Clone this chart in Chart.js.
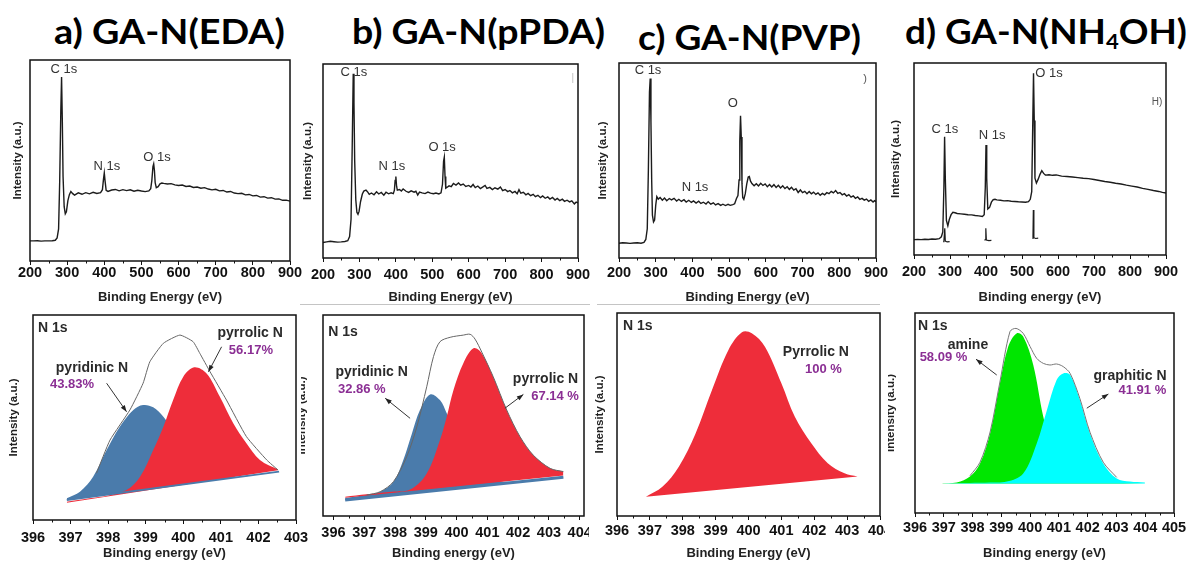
<!DOCTYPE html>
<html>
<head>
<meta charset="utf-8">
<script src="https://cdn.jsdelivr.net/npm/chart.js@4.4.1/dist/chart.umd.min.js"></script>
<style>
  body { margin: 0; width: 1191px; height: 561px; background: #fff; position: relative; overflow: hidden; }
  canvas { position: absolute; }
  .title { position: absolute; font-family: Lato, "Open Sans", sans-serif; font-weight: 700; font-size: 35px;
           color: #000; white-space: nowrap; line-height: 1; transform-origin: left top; }
  .title sub { font-size: 60%; vertical-align: -0.25em; line-height: 0; }
  .rule { position: absolute; height: 1px; background: #c4c4c4; }
</style>
</head>
<body>
<div class="title" id="ttl-a" data-left="54" data-top="13" data-width="231">a) GA-N(EDA)</div>
<div class="title" id="ttl-b" data-left="352" data-top="13" data-width="253">b) GA-N(pPDA)</div>
<div class="title" id="ttl-c" data-left="638" data-top="19" data-width="223">c) GA-N(PVP)</div>
<div class="title" id="ttl-d" data-left="905" data-top="13" data-width="282">d) GA-N(NH<sub>4</sub>OH)</div>
<div class="rule" style="left:300px; top:304px; width:290px"></div>
<div class="rule" style="left:597px; top:304px; width:283px"></div>

<canvas id="survey-eda"></canvas>
<canvas id="survey-ppda"></canvas>
<canvas id="survey-pvp"></canvas>
<canvas id="survey-nh4oh"></canvas>
<canvas id="n1s-ppda"></canvas>
<canvas id="n1s-eda"></canvas>
<canvas id="n1s-pvp"></canvas>
<canvas id="n1s-nh4oh"></canvas>

<script>
// ---------- XPS survey spectra: binding energy (eV) / intensity (a.u.) ----------
const surveyEdaX = [200,210,220,230,240,250,260,268,273,277,280,283,285,287,289,292,295,298,302,306,310,315,320,330,340,350,360,370,380,390,395,398,400,402,405,410,420,430,440,450,460,470,480,490,500,510,520,525,528,531,533,535,537,540,545,550,555,560,570,580,590,600,610,620,630,640,650,660,670,680,690,700,710,720,730,740,750,760,770,780,790,800,810,820,830,840,850,860,870,880,890,900];
const surveyEdaY = [10.0,10.0,10.1,9.9,10.0,10.0,10.1,10.3,11.5,16,40,75,91.5,70,42,27,23.5,24.5,30,33,34.6,33.5,32.8,33.9,33.2,34.0,33.4,34.2,33.6,34.0,35.5,41,43.8,40,35.2,34.6,35.3,35.6,34.9,35.5,35.0,35.4,34.7,35.2,34.8,34.5,34.9,36,40,47,48.3,45,39,36.5,37.0,38.4,38.8,38.6,38.3,38.5,37.9,37.6,37.8,37.1,37.3,36.6,36.8,36.2,36.5,35.8,35.4,35.7,34.9,35.1,34.3,34.6,33.8,33.5,33.7,32.9,33.1,32.4,32.6,31.8,32.0,31.3,31.5,30.8,30.9,30.2,30.3,29.8];

const surveyPpdaX = [200,210,220,230,240,250,260,268,273,277,280,283,285,287,290,293,296,299,303,308,312,318,322,327,333,340,347,353,360,367,373,380,387,393,396,398,400,402,404,410,415,420,428,435,442,450,455,460,465,472,480,488,495,503,510,518,524,528,531,533,535,537,541,546,552,558,565,572,578,585,592,600,606,612,618,625,632,638,645,650,658,665,672,680,687,693,700,707,713,720,727,733,738,743,750,757,763,770,777,783,790,797,803,810,817,823,830,837,843,850,857,863,870,877,883,890,895,900];
const surveyPpdaY = [8.0,8.3,8.6,8.4,8.2,8.3,8.5,8.9,11,20,55,95,80,50,30,23.5,22.5,24,29,33,34.5,35.0,34.2,32.8,33.5,32.6,34.1,33.0,33.8,32.4,33.9,33.1,33.6,33.2,35,40,42,37,35.0,35.3,34.5,35.6,34.4,33.8,34.6,33.9,34.4,32.5,34.0,33.6,33.2,34.0,33.4,33.1,33.5,33.0,33.6,38,50,52,42,36,36.5,37.2,36.8,38.4,37.6,38.7,37.5,38.1,36.9,37.4,36.6,37.9,36.3,37.1,35.8,36.5,37.4,35.9,36.4,35.3,36.2,35.5,36.6,34.7,35.3,34.2,34.8,33.6,34.3,33.1,35.2,33.4,33.9,32.6,33.3,32.1,32.8,31.6,32.3,31.1,32.0,30.8,31.5,30.4,31.2,29.9,30.7,29.6,30.3,29.2,29.8,28.9,29.5,27.9,28.8,28.4];

const surveyPvpX = [200,210,220,230,240,250,260,268,273,277,280,283,285,287,289,291,294,297,300,303,307,312,318,324,330,337,343,350,357,363,370,377,383,390,397,403,410,417,423,430,437,443,450,457,463,470,477,483,490,497,503,510,515,520,524,527,529,531,533,535,537,540,544,548,552,555,558,562,568,574,580,586,592,598,604,610,616,622,628,634,640,646,652,658,664,670,676,682,688,694,700,706,712,718,724,730,736,742,748,754,760,766,772,778,784,790,796,802,808,814,820,826,832,838,844,850,856,862,868,874,880,886,892,896,900];
const surveyPvpY = [7.6,7.8,7.7,7.5,7.7,7.8,7.6,8.0,9.5,15,45,85,92,70,40,22,18.5,19.5,27,31.5,30.2,31.0,29.6,30.8,29.4,30.5,29.8,30.6,29.2,30.1,29.0,29.9,28.7,29.6,28.5,29.3,28.2,29.1,28.0,28.6,27.7,28.9,27.6,28.3,27.2,27.9,27.0,27.6,26.9,27.5,27.0,27.4,27.8,30.5,32,40,60,73,62,38,31,30.0,33,38,41.5,41.8,39.5,38.2,37.0,38.1,36.9,38.3,37.2,38.0,36.6,37.7,36.4,37.6,36.2,37.3,35.9,37.0,35.6,36.5,35.2,36.3,34.8,35.5,33.6,34.9,33.5,34.2,33.0,34.1,32.9,33.8,32.6,33.4,32.2,33.1,32.4,33.5,33.0,34.2,33.4,34.6,33.1,33.6,32.4,33.0,31.8,32.5,31.2,31.9,30.6,31.3,30.1,30.6,29.7,30.2,29.1,29.8,28.7,29.4,28.9];

const surveyNh4ohX = [200,210,220,230,240,250,260,270,276,280,283,285,287,290,294,298,303,308,314,320,330,340,350,360,370,380,390,395,398,400,402,405,410,415,420,425,430,440,450,460,470,480,490,500,510,518,523,527,530,532,534,536,540,545,550,555,560,565,575,585,595,610,625,640,655,670,685,700,715,730,745,760,775,790,805,820,835,850,865,880,890,900];
const surveyNh4ohY = [8.0,8.1,8.0,8.2,8.1,8.3,8.2,8.5,9.5,12,35,61.6,40,18,15.2,18.5,21,22.2,22.0,21.6,21.4,21.2,21.0,20.9,20.6,20.4,20.1,21,35,57.3,40,24,24.8,27.5,28.8,29.0,28.7,28.5,28.2,28.3,28.0,27.9,27.7,27.6,27.5,27.8,29,33,70,94.6,70,40,37.5,39.5,42,43.9,42.5,41.6,41.8,41.5,41.7,41.1,40.9,40.6,40.3,40.0,39.8,39.3,38.8,38.3,37.9,37.4,37.0,36.4,35.9,35.4,34.7,34.2,33.6,33.1,32.6,32.3];
// small overlaid core-level traces under the C, N and O peaks (null = break)
const insetNh4ohX = [281,283,285.5,287,292,299,300,396,398,399.5,401,408,415,416,529,530.5,531.5,533,538,545];
const insetNh4ohY = [6.9,7.2,13.9,7.2,6.8,7.0,null,7.6,8.0,13.9,7.8,7.5,7.6,null,8.7,10,23.4,9,8.6,8.8];

// ---------- N 1s high-resolution spectra ----------
// GA-N(EDA)
const edaEnvX = [397.69,398.05,398.58,398.93,399.11,399.47,399.91,400.26,400.44,400.71,401.15,401.68,402.22,402.52];
const edaEnvY = [22.8,39.0,53.7,66.7,77.2,86.2,90.2,87.0,81.3,72.4,58.5,40.7,29.3,24.4];
const edaPyridinicX = [396.9,397.25,397.6,397.96,398.31,398.67,398.93,399.2,399.47,399.8,400.2,400.7,401.3,402.0,402.55];
const edaPyridinicY = [10.6,13.8,21.1,34.1,45.5,53.7,56.1,55.0,50.4,42,32,24,21,22.2,23.6];
const edaPyrrolicX = [396.9,397.5,398.0,398.49,398.85,399.2,399.47,399.73,400.0,400.29,400.62,400.97,401.33,401.68,402.04,402.52];
const edaPyrrolicY = [8.9,10.6,12.0,14.6,21.1,34.1,45.5,58.5,69.9,74.5,71.5,60.2,47.2,37.4,29.3,24.7];
const edaBaseX = [396.9,402.55];
const edaBaseY = [9.8,23.6];
const edaPyrrolicBaseY = [8.4,24.4];

// GA-N(pPDA)
const ppdaEnvX = [397.08,397.52,397.95,398.38,398.71,399.03,399.25,399.46,399.79,400.22,400.44,400.6,400.82,401.19,401.63,402.06,402.49,403.04,403.47];
const ppdaEnvY = [10.4,12.1,17.1,29.5,44.4,64.3,79.3,86.7,88.9,90.0,90.4,88.0,81.5,69.3,52.7,39.5,30.3,23.7,22.1];
const ppdaPyridinicX = [396.38,397.08,397.52,397.95,398.27,398.55,398.81,399.14,399.46,399.68,400.0,400.5,401.2,402.0,403.47];
const ppdaPyridinicY = [9.0,10.6,12.1,17.1,27.9,41.1,52.7,60.5,57.7,51.1,40,25,18,17.2,19.4];
const ppdaPyrrolicX = [396.38,397.08,397.8,398.49,399.03,399.46,399.68,399.9,400.22,400.55,400.82,401.19,401.63,402.06,402.49,403.04,403.47];
const ppdaPyrrolicY = [9.6,10.8,12.0,13.2,21.2,37.8,49.4,62.7,76.0,83.4,80.9,69.3,52.7,39.5,30.3,23.7,22.1];
const ppdaBaseX = [396.38,403.47];
const ppdaBaseY = [8.0,19.3];
const ppdaPyrrolicBaseY = [9.1,20.1];

// GA-N(PVP)
const pvpPyrrolicX = [396.88,397.38,397.88,398.39,398.89,399.39,399.8,400.1,400.5,401.0,401.41,401.91,402.41,402.92,403.32];
const pvpPyrrolicY = [9.5,14.4,24.3,40.7,62.1,81.8,90.5,90.0,83.4,65.4,48.9,35.8,26.0,21.0,19.4];
const pvpBaseX = [396.88,403.32];
const pvpBaseY = [9.5,19.4];

// GA-N(NH4OH)
const nh4ohEnvX = [397.91,398.26,398.61,398.95,399.3,399.51,399.76,400.0,400.23,400.46,400.69,400.92,401.15,401.39,401.73,402.08,402.54,403.01];
const nh4ohEnvY = [18.6,25.4,40.5,65.5,90.7,92.3,89.8,83.2,77.3,74.8,74.0,74.5,73.2,69.8,57.2,40.4,25.4,17.8];
const nh4ohAmineX = [396.93,397.45,397.91,398.26,398.61,398.95,399.24,399.53,399.76,400.11,400.46,400.81,401.2,401.8,402.5,404.0];
const nh4ohAmineY = [14.8,15.2,18.2,24.8,39.8,64.8,83.2,89.8,88.2,74,48,30,20,16,15.2,14.8];
const nh4ohGraphiticX = [396.93,397.9,398.61,399.19,399.76,400.23,400.58,400.92,401.15,401.39,401.73,402.08,402.54,403.01,403.47,403.99];
const nh4ohGraphiticY = [14.8,15.0,15.2,15.7,19.8,34.8,51.3,66.5,69.8,69.0,56.5,39.8,24.8,17.3,15.7,15.3];
const nh4ohBaseX = [396.93,403.99];
const nh4ohBaseY = [14.8,14.8];

// ---------- colours & fonts ----------
const SANS = '"Liberation Sans", Arial, sans-serif';
const RED = '#ee2d3a', BLUE = '#4a7bab', GREEN = '#00e600', CYAN = '#00ffff', PURPLE = '#8b2f94';
const LINE = '#1c1c1c';

const pts = (xs, ys) => xs.map((x, i) => ({ x, y: ys[i] }));

// border around the plotting area
const framePlugin = {
  id: 'frame',
  afterDraw(chart) {
    const { ctx, chartArea: a } = chart;
    ctx.save();
    ctx.strokeStyle = '#111';
    ctx.lineWidth = 1.5;
    ctx.strokeRect(a.left, a.top, a.right - a.left, a.bottom - a.top);
    ctx.restore();
  }
};

// short minor ticks between the labelled ones
const minorTicksPlugin = {
  id: 'minorTicks',
  afterDraw(chart, args, opts) {
    const sx = chart.scales.x, a = chart.chartArea, ctx = chart.ctx;
    ctx.save();
    ctx.strokeStyle = '#111';
    ctx.lineWidth = 1;
    for (let v = opts.from; v <= sx.max + 1e-9; v += opts.step) {
      const px = Math.round(sx.getPixelForValue(v)) + 0.5;
      ctx.beginPath();
      ctx.moveTo(px, a.bottom);
      ctx.lineTo(px, a.bottom + opts.len);
      ctx.stroke();
    }
    ctx.restore();
  }
};

// peak names, percentages and pointer arrows, placed in data units
const notesPlugin = {
  id: 'notes',
  afterDatasetsDraw(chart, args, opts) {
    const { ctx } = chart;
    const sx = chart.scales.x, sy = chart.scales.y;
    ctx.save();
    (opts.arrows || []).forEach(([x0, y0, x1, y1]) => {
      const ax = sx.getPixelForValue(x0), ay = sy.getPixelForValue(y0);
      const bx = sx.getPixelForValue(x1), by = sy.getPixelForValue(y1);
      const ang = Math.atan2(by - ay, bx - ax);
      ctx.strokeStyle = '#333';
      ctx.fillStyle = '#222';
      ctx.lineWidth = 1;
      ctx.beginPath();
      ctx.moveTo(ax, ay);
      ctx.lineTo(bx, by);
      ctx.stroke();
      ctx.beginPath();
      ctx.moveTo(bx, by);
      ctx.lineTo(bx - 7 * Math.cos(ang - 0.35), by - 7 * Math.sin(ang - 0.35));
      ctx.lineTo(bx - 7 * Math.cos(ang + 0.35), by - 7 * Math.sin(ang + 0.35));
      ctx.closePath();
      ctx.fill();
    });
    (opts.labels || []).forEach(l => {
      ctx.font = l.font;
      ctx.fillStyle = l.color;
      ctx.textAlign = l.align || 'center';
      ctx.textBaseline = 'middle';
      ctx.fillText(l.text, sx.getPixelForValue(l.x), sy.getPixelForValue(l.y));
    });
    ctx.restore();
  }
};

const peakFont = '13px ' + SANS;
const tagFont = 'bold 14px ' + SANS;
const pctFont = 'bold 13px ' + SANS;
const dark = '#2a2a2a';

function buildChart(id, g, datasets) {
  const cv = document.getElementById(id);
  const [cl, ct, cr, cb] = g.canvas;
  const [bl, bt, br, bb] = g.box;
  cv.width = cr - cl;
  cv.height = cb - ct;
  cv.style.left = cl + 'px';
  cv.style.top = ct + 'px';
  const xTitleSize = 13, yTitleSize = 11.5;
  return new Chart(cv, {
    type: 'line',
    data: { datasets },
    plugins: [framePlugin, minorTicksPlugin, notesPlugin],
    options: {
      responsive: false,
      animation: false,
      devicePixelRatio: 1,
      layout: { padding: { top: bt - ct, right: cr - br, left: 0, bottom: 0 } },
      elements: { point: { radius: 0 } },
      plugins: {
        legend: { display: false },
        tooltip: { enabled: false },
        minorTicks: { from: g.minorFrom, step: g.minorStep, len: 2.5 },
        notes: { labels: g.labels, arrows: g.arrows || [] }
      },
      scales: {
        x: {
          type: 'linear',
          min: g.xMin,
          max: g.xMax,
          afterFit(s) { s.height = cb - bb; s.paddingLeft = 0; s.paddingRight = 0; },
          border: { display: false },
          grid: { drawOnChartArea: false, tickLength: 4, color: '#111', lineWidth: 1 },
          ticks: {
            stepSize: g.step, autoSkip: false, maxRotation: 0, includeBounds: false,
            padding: g.tickPad, color: '#111',
            font: { family: SANS, size: 14.5, weight: 'bold' }
          },
          title: {
            display: true, text: g.xTitle, color: '#222',
            font: { family: SANS, size: xTitleSize, weight: 'bold', lineHeight: 1.2 },
            padding: { top: (cb - g.xTitleY) - xTitleSize * 0.6, bottom: 0 }
          }
        },
        y: {
          min: 0,
          max: 100,
          afterFit(s) { s.width = bl - cl; s.paddingTop = 0; s.paddingBottom = 0; },
          border: { display: false },
          grid: { display: false },
          ticks: { display: false },
          title: {
            display: true, text: 'Intensity (a.u.)', color: '#222',
            font: { family: SANS, size: yTitleSize, weight: 'bold', lineHeight: 1.2 },
            padding: { top: (g.yTitleX - cl) - yTitleSize * 0.6, bottom: 0 }
          }
        }
      }
    }
  });
}

function surveyLine(xs, ys) {
  return { data: pts(xs, ys), borderColor: LINE, borderWidth: 1.4, tension: 0, fill: false, order: 1 };
}

const surveyCommon = { xMin: 200, xMax: 900, step: 100, minorFrom: 250, minorStep: 100 };
const n1sCommon = { step: 1, minorFrom: 396.5, minorStep: 1 };

// ---------- top row: survey scans ----------
buildChart('survey-eda', Object.assign({}, surveyCommon, {
  canvas: [0, 50, 305, 305], box: [30, 60, 290, 261], tickPad: -1, xTitleY: 298, yTitleX: 18,
  xTitle: 'Binding Energy (eV)',
  labels: [
    { text: 'C 1s', x: 291.5, y: 95.5, font: peakFont, color: '#333' },
    { text: 'N 1s', x: 407, y: 47.3, font: peakFont, color: '#333' },
    { text: 'O 1s', x: 542, y: 51.7, font: peakFont, color: '#333' }
  ]
}), [surveyLine(surveyEdaX, surveyEdaY)]);

buildChart('survey-ppda', Object.assign({}, surveyCommon, {
  canvas: [300, 50, 595, 305], box: [323, 64, 578, 258], tickPad: 4, xTitleY: 297, yTitleX: 308,
  xTitle: 'Binding Energy (eV)',
  labels: [
    { text: 'C 1s', x: 285, y: 95.9, font: peakFont, color: '#333' },
    { text: 'N 1s', x: 389, y: 47.4, font: peakFont, color: '#333' },
    { text: 'O 1s', x: 527, y: 57.2, font: peakFont, color: '#333' },
    { text: '|', x: 886, y: 92.8, font: '10px ' + SANS, color: '#bbb' }
  ]
}), [surveyLine(surveyPpdaX, surveyPpdaY)]);

buildChart('survey-pvp', Object.assign({}, surveyCommon, {
  canvas: [595, 50, 888, 305], box: [619, 63, 876, 258], tickPad: 2.5, xTitleY: 296, yTitleX: 603,
  xTitle: 'Binding Energy (eV)',
  labels: [
    { text: 'C 1s', x: 279, y: 96.4, font: peakFont, color: '#333' },
    { text: 'N 1s', x: 407, y: 36.4, font: peakFont, color: '#333' },
    { text: 'O', x: 510, y: 79.5, font: peakFont, color: '#333' },
    { text: ')', x: 870, y: 91.8, font: '11px ' + SANS, color: '#555' }
  ]
}), [surveyLine(surveyPvpX, surveyPvpY)]);

buildChart('survey-nh4oh', Object.assign({}, surveyCommon, {
  canvas: [888, 50, 1191, 305], box: [914, 63, 1166, 255], tickPad: 4, xTitleY: 293, yTitleX: 896,
  xTitle: 'Binding energy (eV)',
  labels: [
    { text: 'C 1s', x: 286, y: 65.6, font: peakFont, color: '#333' },
    { text: 'N 1s', x: 417, y: 62.5, font: peakFont, color: '#333' },
    { text: 'O 1s', x: 575, y: 94.8, font: peakFont, color: '#333' },
    { text: 'H)', x: 875, y: 79.7, font: '10px ' + SANS, color: '#555' }
  ]
}), [
  surveyLine(surveyNh4ohX, surveyNh4ohY),
  { data: pts(insetNh4ohX, insetNh4ohY), borderColor: LINE, borderWidth: 1.2, tension: 0, fill: false, spanGaps: false, order: 0 }
]);

// ---------- bottom row: N 1s deconvolution ----------
// dataset order: higher "order" is painted first
const invisible = { borderColor: 'rgba(0,0,0,0)', borderWidth: 0, fill: false };

buildChart('n1s-eda', Object.assign({}, n1sCommon, {
  canvas: [0, 305, 310, 561], box: [33, 315, 296, 520], xMin: 396, xMax: 403, tickPad: 5,
  xTitleY: 555, yTitleX: 14, xTitle: 'Binding energy (eV)',
  labels: [
    { text: 'N 1s', x: 396.13, y: 93.7, font: tagFont, color: dark, align: 'left' },
    { text: 'pyridinic N', x: 397.57, y: 74.1, font: tagFont, color: dark },
    { text: '43.83%', x: 397.04, y: 65.9, font: pctFont, color: PURPLE },
    { text: 'pyrrolic N', x: 401.78, y: 91.2, font: tagFont, color: dark },
    { text: '56.17%', x: 401.8, y: 82.9, font: pctFont, color: PURPLE }
  ],
  arrows: [[397.96, 66.7, 398.49, 52.8], [401.02, 84.5, 400.67, 72.3]]
}), [
  Object.assign({ data: pts(edaBaseX, edaBaseY), order: 2 }, { borderColor: BLUE, borderWidth: 2, fill: false }),
  Object.assign({ data: pts(edaBaseX, edaPyrrolicBaseY), order: 9 }, invisible),
  { data: pts(edaPyridinicX, edaPyridinicY), borderColor: 'rgba(0,0,0,0)', borderWidth: 0, backgroundColor: BLUE, fill: { target: 0 }, tension: 0.35, order: 5 },
  { data: pts(edaPyrrolicX, edaPyrrolicY), borderColor: 'rgba(0,0,0,0)', borderWidth: 0, backgroundColor: RED, fill: { target: 1 }, tension: 0.35, order: 4 },
  { data: pts(edaEnvX, edaEnvY), borderColor: '#666', borderWidth: 1, fill: false, tension: 0.15, order: 0 }
]);

buildChart('n1s-ppda', Object.assign({}, n1sCommon, {
  canvas: [301, 305, 589, 561], box: [323, 315, 584, 516], xMin: 395.66, xMax: 404.14, tickPad: 4.5,
  xTitleY: 552, yTitleX: 302, xTitle: 'Binding energy (eV)',
  labels: [
    { text: 'N 1s', x: 395.83, y: 91.5, font: tagFont, color: dark, align: 'left' },
    { text: 'pyridinic N', x: 397.24, y: 71.6, font: tagFont, color: dark },
    { text: '32.86 %', x: 396.92, y: 63.2, font: pctFont, color: PURPLE },
    { text: 'pyrrolic N', x: 402.89, y: 68.2, font: tagFont, color: dark },
    { text: '67.14 %', x: 403.2, y: 59.7, font: pctFont, color: PURPLE }
  ],
  arrows: [[398.49, 48.6, 397.68, 58.6], [401.57, 53.6, 402.17, 60.5]]
}), [
  Object.assign({ data: pts(ppdaBaseX, ppdaBaseY), order: 2 }, { borderColor: BLUE, borderWidth: 3, fill: false }),
  Object.assign({ data: pts(ppdaBaseX, ppdaPyrrolicBaseY), order: 9 }, invisible),
  { data: pts(ppdaPyridinicX, ppdaPyridinicY), borderColor: 'rgba(0,0,0,0)', borderWidth: 0, backgroundColor: BLUE, fill: { target: 0 }, tension: 0.35, order: 5 },
  { data: pts(ppdaPyrrolicX, ppdaPyrrolicY), borderColor: 'rgba(0,0,0,0)', borderWidth: 0, backgroundColor: RED, fill: { target: 1 }, tension: 0.35, order: 3 },
  { data: pts(ppdaEnvX, ppdaEnvY), borderColor: '#666', borderWidth: 1, fill: false, tension: 0.3, order: 0 }
]);

buildChart('n1s-pvp', Object.assign({}, n1sCommon, {
  canvas: [595, 305, 885, 561], box: [617, 313, 880, 516], xMin: 396, xMax: 404, tickPad: 2.5,
  xTitleY: 556, yTitleX: 600, xTitle: 'Binding Energy (eV)',
  labels: [
    { text: 'N 1s', x: 396.18, y: 93.6, font: tagFont, color: dark, align: 'left' },
    { text: 'Pyrrolic N', x: 402.05, y: 80.8, font: tagFont, color: dark },
    { text: '100 %', x: 402.28, y: 72.4, font: pctFont, color: PURPLE }
  ]
}), [
  Object.assign({ data: pts(pvpBaseX, pvpBaseY), order: 9 }, invisible),
  { data: pts(pvpPyrrolicX, pvpPyrrolicY), borderColor: 'rgba(0,0,0,0)', borderWidth: 0, backgroundColor: RED, fill: { target: 0 }, tension: 0.35, order: 1 }
]);

buildChart('n1s-nh4oh', Object.assign({}, n1sCommon, {
  canvas: [888, 305, 1191, 561], box: [915, 313, 1174, 513], xMin: 396, xMax: 405, tickPad: 2.5,
  xTitleY: 548, yTitleX: 891, xTitle: 'Binding energy (eV)',
  labels: [
    { text: 'N 1s', x: 396.1, y: 93.5, font: tagFont, color: dark, align: 'left' },
    { text: 'amine', x: 397.84, y: 84, font: tagFont, color: dark },
    { text: '58.09 %', x: 396.99, y: 78, font: pctFont, color: PURPLE },
    { text: 'graphitic N', x: 403.47, y: 68.5, font: tagFont, color: dark },
    { text: '41.91 %', x: 403.9, y: 61.5, font: pctFont, color: PURPLE }
  ],
  arrows: [[398.84, 69, 398.12, 76.9], [401.97, 52.4, 402.72, 59.5]]
}), [
  Object.assign({ data: pts(nh4ohBaseX, nh4ohBaseY), order: 9 }, invisible),
  { data: pts(nh4ohAmineX, nh4ohAmineY), borderColor: 'rgba(0,0,0,0)', borderWidth: 0, backgroundColor: GREEN, fill: { target: 0 }, tension: 0.35, order: 5 },
  { data: pts(nh4ohGraphiticX, nh4ohGraphiticY), borderColor: 'rgba(0,0,0,0)', borderWidth: 0, backgroundColor: CYAN, fill: { target: 0 }, tension: 0.35, order: 4 },
  { data: pts(nh4ohEnvX, nh4ohEnvY), borderColor: '#777', borderWidth: 1, fill: false, tension: 0.3, order: 0 }
]);

// stretch each heading to its column width
document.querySelectorAll('.title').forEach(el => {
  el.style.left = el.dataset.left + 'px';
  el.style.top = el.dataset.top + 'px';
  const w = el.getBoundingClientRect().width;
  el.style.transform = 'scaleX(' + (Number(el.dataset.width) / w).toFixed(3) + ')';
});
</script>
</body>
</html>
